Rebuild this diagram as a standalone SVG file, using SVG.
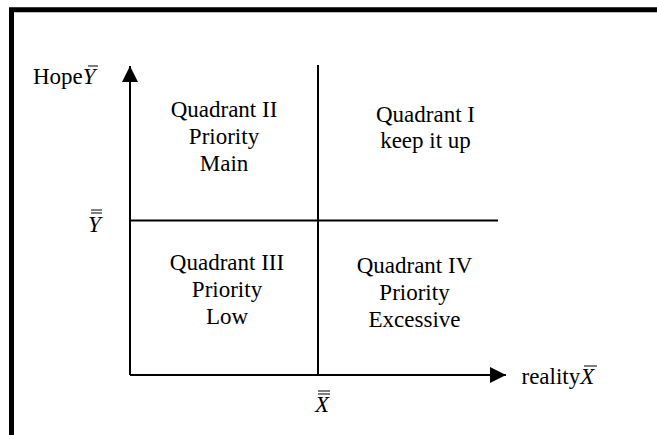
<svg xmlns="http://www.w3.org/2000/svg" width="657" height="435" viewBox="0 0 657 435">
<style>
  text { font-family: "Liberation Serif", "Times New Roman", serif; font-size: 23px; fill: #000; }
  .q { text-anchor: middle; }
  .ax { stroke: #000; stroke-width: 2; fill: none; }
  .it { font-style: italic; }
</style>
<defs>
  <marker id="arr" viewBox="0 0 16 16" refX="16" refY="8" markerWidth="16" markerHeight="16" markerUnits="userSpaceOnUse" orient="auto">
    <path d="M0,0 L16,8 L0,16 Z" fill="#000"/>
  </marker>
</defs>
<rect width="657" height="435" fill="#fff"/>
<path d="M11.5,435 V9.8 H657" stroke="#000" stroke-width="5" fill="none"/>
<g id="connectors">
  <path class="ax" d="M130,375 V66" marker-end="url(#arr)"/>
  <path class="ax" d="M130,375 H506" marker-end="url(#arr)"/>
  <path class="ax" d="M318,65 V375"/>
  <path class="ax" d="M130,220.5 H498"/>
</g>
<g id="ylabel"><text x="33" y="84">Hope<tspan class="it">Y</tspan></text><line x1="88" y1="66" x2="98" y2="66" stroke="#000" stroke-width="1"/></g>
<g id="ymean"><text x="88" y="232" class="it">Y</text><line x1="91" y1="210" x2="102" y2="210" stroke="#000" stroke-width="1"/><line x1="91" y1="213" x2="102" y2="213" stroke="#000" stroke-width="1"/></g>
<g id="xlabel"><text x="521.5" y="384">reality<tspan class="it">X</tspan></text><line x1="584" y1="366" x2="597" y2="366" stroke="#000" stroke-width="1"/></g>
<g id="xmean"><text x="315" y="412" class="it">X</text><line x1="318" y1="391" x2="330" y2="391" stroke="#000" stroke-width="1"/><line x1="318" y1="394" x2="330" y2="394" stroke="#000" stroke-width="1"/></g>
<g id="q2"><text class="q" x="224" y="117">Quadrant II</text><text class="q" x="224" y="144">Priority</text><text class="q" x="224" y="171">Main</text></g>
<g id="q1"><text class="q" x="425.5" y="122">Quadrant I</text><text class="q" x="425.5" y="148">keep it up</text></g>
<g id="q3"><text class="q" x="227" y="270">Quadrant III</text><text class="q" x="227" y="297">Priority</text><text class="q" x="227" y="324">Low</text></g>
<g id="q4"><text class="q" x="414.5" y="273">Quadrant IV</text><text class="q" x="414.5" y="300">Priority</text><text class="q" x="414.5" y="327">Excessive</text></g>
</svg>
